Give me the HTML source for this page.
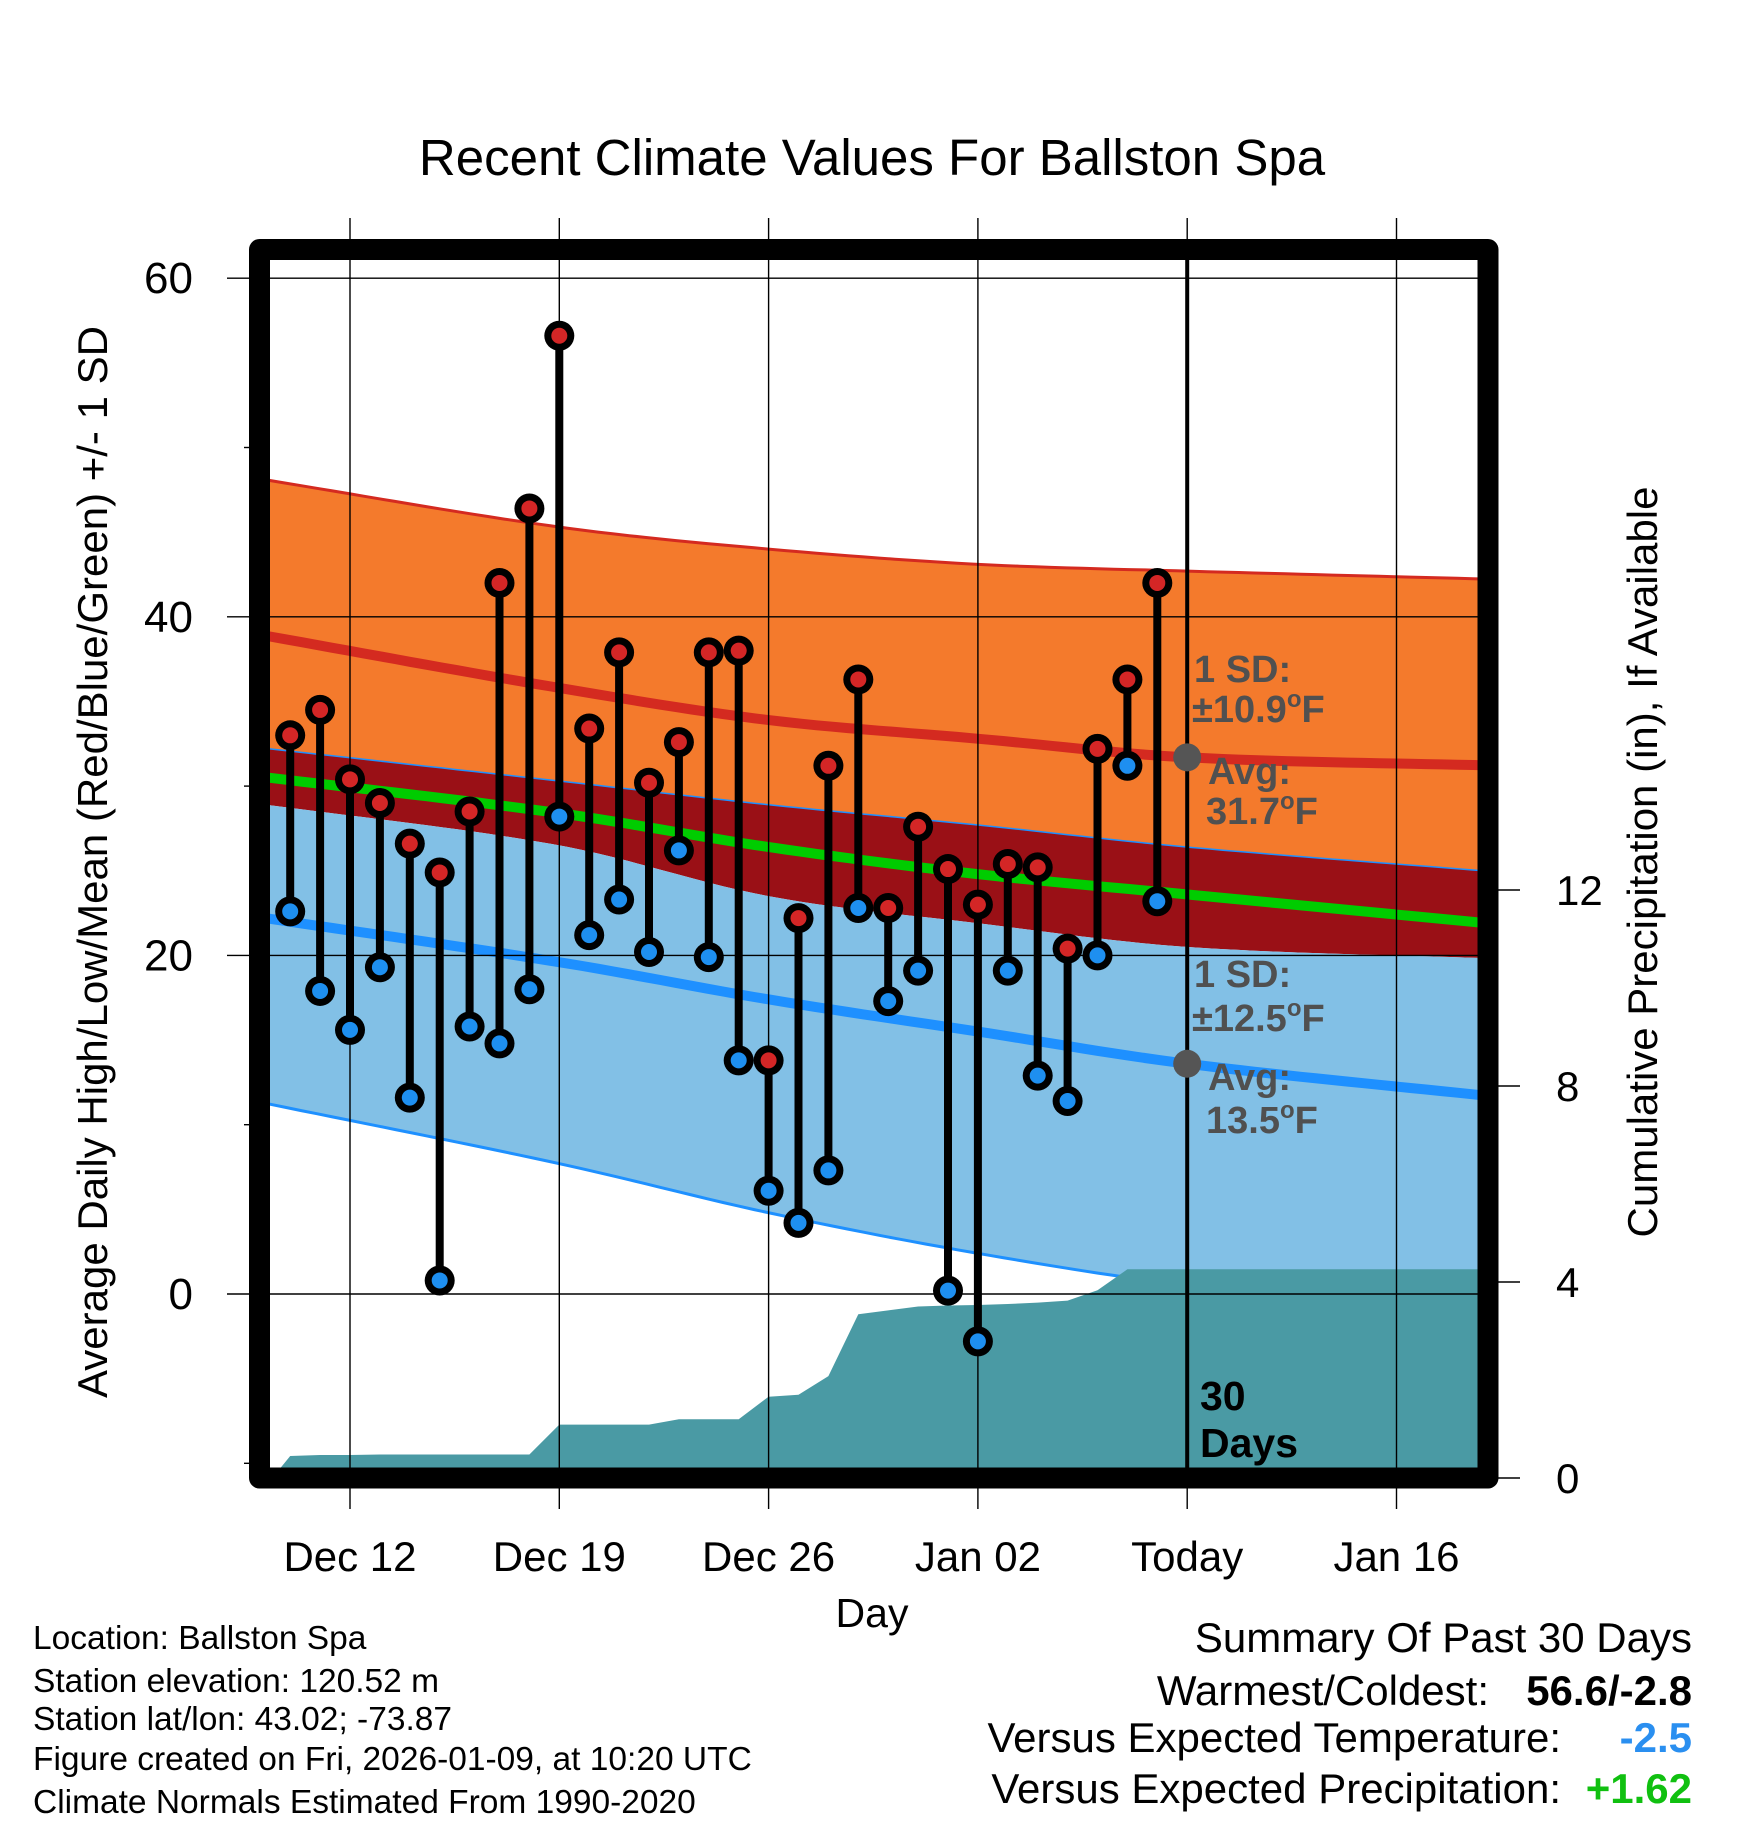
<!DOCTYPE html>
<html><head><meta charset="utf-8"><style>
html,body{margin:0;padding:0;background:#fff;}
svg{display:block;font-family:"Liberation Sans",Arial,sans-serif;}
</style></head><body>
<svg id="chart" width="1748" height="1828" viewBox="0 0 1748 1828" xmlns="http://www.w3.org/2000/svg">
<defs><clipPath id="plotclip"><rect x="259.5" y="249.5" width="1228.5" height="1228.5"/></clipPath></defs>
<g id="fills" clip-path="url(#plotclip)"></g>
<g id="grid"></g>
<g id="marks" clip-path="url(#plotclip)"></g>
<text x="872" y="175" font-size="51" text-anchor="middle">Recent Climate Values For Ballston Spa</text>
<text transform="translate(107,862) rotate(-90)" font-size="42" text-anchor="middle">Average Daily High/Low/Mean (Red/Blue/Green) +/- 1 SD</text>
<text transform="translate(1657,862) rotate(-90)" font-size="42" text-anchor="middle">Cumulative Precipitation (in), If Available</text>
<text x="872" y="1627" font-size="41" text-anchor="middle">Day</text>
<g font-size="33.5">
<text x="33" y="1649">Location: Ballston Spa</text>
<text x="33" y="1692">Station elevation: 120.52 m</text>
<text x="33" y="1730">Station lat/lon: 43.02; -73.87</text>
<text x="33" y="1770">Figure created on Fri, 2026-01-09, at 10:20 UTC</text>
<text x="33" y="1813">Climate Normals Estimated From 1990-2020</text>
</g>
<g font-size="42">
<text x="1692" y="1652" text-anchor="end">Summary Of Past 30 Days</text>
<text x="1489" y="1705" text-anchor="end">Warmest/Coldest:</text>
<text x="1692" y="1705" text-anchor="end" font-weight="bold">56.6/-2.8</text>
<text x="1561" y="1752" text-anchor="end">Versus Expected Temperature:</text>
<text x="1692" y="1752" text-anchor="end" font-weight="bold" fill="#2a8ff0">-2.5</text>
<text x="1561" y="1803" text-anchor="end">Versus Expected Precipitation:</text>
<text x="1692" y="1803" text-anchor="end" font-weight="bold" fill="#10c010">+1.62</text>
</g>
<g id="annot" font-size="38" font-weight="bold" fill="#505050">
<text x="1194" y="682">1 SD:</text>
<text x="1192" y="722">±10.9<tspan dy="-15" font-size="24">o</tspan><tspan dy="15">F</tspan></text>
<text x="1208" y="784">Avg:</text>
<text x="1206" y="824">31.7<tspan dy="-15" font-size="24">o</tspan><tspan dy="15">F</tspan></text>
<text x="1194" y="987">1 SD:</text>
<text x="1192" y="1031">±12.5<tspan dy="-15" font-size="24">o</tspan><tspan dy="15">F</tspan></text>
<text x="1208" y="1090">Avg:</text>
<text x="1206" y="1133">13.5<tspan dy="-15" font-size="24">o</tspan><tspan dy="15">F</tspan></text>
</g>
<g font-size="41" font-weight="bold" fill="#000">
<text x="1200" y="1410">30</text>
<text x="1200" y="1457">Days</text>
</g>
<rect x="259.5" y="249.5" width="1228.5" height="1228.5" fill="none" stroke="#000" stroke-width="21" stroke-linejoin="round"/>
</svg>
<script>
// day offsets relative to Dec 12
const obsDays = [-2,-1,0,1,2,3,4,5,6,7,8,9,10,11,12,13,14,15,16,17,18,19,20,21,22,23,24,25,26,27];
const highs = [33.0,34.5,30.4,29.0,26.6,24.9,28.5,42.0,46.4,56.6,33.4,37.9,30.2,32.6,37.9,38.0,13.8,22.2,31.2,36.3,22.8,27.6,25.1,23.0,25.4,25.2,20.4,32.2,36.3,42.0];
const lows = [22.6,17.9,15.6,19.3,11.6,0.8,15.8,14.8,18.0,28.2,21.2,23.3,20.2,26.2,19.9,13.8,6.1,4.2,7.3,22.8,17.3,19.1,0.2,-2.8,19.1,12.9,11.4,20.0,31.2,23.2];
const precip = [0.45,0.47,0.47,0.48,0.48,0.48,0.48,0.48,0.48,1.09,1.09,1.09,1.09,1.2,1.2,1.2,1.66,1.7,2.08,3.34,3.42,3.5,3.52,3.53,3.55,3.58,3.62,3.83,4.26,4.26];
const normDays = [-3.2,7,14,21,28,38.6];
const hiUpper = [48.2,45.3,44.0,43.1,42.7,42.2];
const hiMean = [39.0,35.8,33.9,32.8,31.7,31.2];
const bandTop = [32.3,30.3,28.9,27.7,26.4,24.9];
const meanLine = [30.6,28.4,26.4,24.8,23.6,21.8];
const bandBottom = [29.0,26.5,23.5,21.9,20.5,19.8];
const loMean = [22.3,19.6,17.4,15.5,13.6,11.6];
const loLower = [11.4,7.7,4.8,2.4,0.5,-1.5];
const xTickDays = [0,7,14,21,28,35];
const xTickLabels = ["Dec 12","Dec 19","Dec 26","Jan 02","Today","Jan 16"];
const yTicks = [60,40,20,0];
const yMinor = [50,30,10,-10];
const pTicks = [12,8,4,0];
const todayDay = 28;

const X = d => 350 + 29.9*d;
const Y = v => 1294 - 16.93*v;
const P = v => 1478 - 49*v;
const NS = "http://www.w3.org/2000/svg";
function mk(tag, parent, attrs){const e=document.createElementNS(NS,tag);for(const k in attrs)e.setAttribute(k,attrs[k]);parent.appendChild(e);return e;}
function slope(arr,j){const n=normDays.length-1;
 if(j===0)return (arr[1]-arr[0])/(normDays[1]-normDays[0]);
 if(j===n)return (arr[n]-arr[n-1])/(normDays[n]-normDays[n-1]);
 return (arr[j+1]-arr[j-1])/(normDays[j+1]-normDays[j-1]);}
function smooth(arr,d){
 let i=0;while(i<normDays.length-2&&d>normDays[i+1])i++;
 const x0=normDays[i],x1=normDays[i+1],h=x1-x0,t=(d-x0)/h;
 const h00=2*t*t*t-3*t*t+1,h10=t*t*t-2*t*t+t,h01=-2*t*t*t+3*t*t,h11=t*t*t-t*t;
 return h00*arr[i]+h10*h*slope(arr,i)+h01*arr[i+1]+h11*h*slope(arr,i+1);}
function sample(arr){const pts=[];const a=normDays[0],b=normDays[normDays.length-1];for(let k=0;k<=80;k++){const d=a+(b-a)*k/80;pts.push([X(d),Y(smooth(arr,d))]);}return pts;}
const ps = p => p.map(q=>q[0].toFixed(1)+","+q[1].toFixed(1)).join(" ");
const fills=document.getElementById("fills");
function band(top,bot,fill,name){const a=sample(top),b=sample(bot).reverse();const e=mk("polygon",fills,{points:ps(a.concat(b)),fill:fill});

}
function line(arr,color,w,name){const e=mk("polyline",fills,{points:ps(sample(arr)),fill:"none",stroke:color,"stroke-width":w});

}

band(hiUpper,bandTop,"#f47a2c","high-sd-band");
band(bandTop,bandBottom,"#9a1016","mean-band");
band(bandBottom,loLower,"#82c0e6","low-sd-band");
line(hiUpper,"#d42a20",3,"high-upper-line");
line(bandTop,"#1e90ff",1.5,"band-top-line");
line(hiMean,"#d42a20",10,"high-mean-line");
line(meanLine,"#00cc00",10,"mean-line");
line(loMean,"#1e90ff",10,"low-mean-line");
line(loLower,"#1e90ff",3,"low-lower-line");

(function(){const pts=[[X(-2.6),P(0)]];obsDays.forEach((d,i)=>pts.push([X(d),P(precip[i])]));
pts.push([X(40),P(precip[precip.length-1])]);pts.push([X(40),P(-0.5)]);pts.push([X(-3.5),P(-0.5)]);pts.push([X(-3.5),P(0)]);
const e=mk("polygon",fills,{points:ps(pts),fill:"#4a9aa4"});

})();

const grid=document.getElementById("grid");
xTickDays.forEach((d,i)=>{const e=mk("line",grid,{x1:X(d),x2:X(d),y1:218,y2:1509,stroke:"#000","stroke-width":1.4});


const t=mk("text",grid,{x:X(d),y:1571,"font-size":42,"text-anchor":"middle"});t.textContent=xTickLabels[i];

});
yTicks.forEach(v=>{const e=mk("line",grid,{x1:227,x2:1488,y1:Y(v),y2:Y(v),stroke:"#000","stroke-width":1.4});


const t=mk("text",grid,{x:193,y:Y(v)+15,"font-size":44,"text-anchor":"end"});t.textContent=v;

});
yMinor.forEach(v=>{const e=mk("line",grid,{x1:244,x2:260,y1:Y(v),y2:Y(v),stroke:"#000","stroke-width":1.4});

});
pTicks.forEach(v=>{const e=mk("line",grid,{x1:1488,x2:1520,y1:P(v),y2:P(v),stroke:"#000","stroke-width":1.4});


const t=mk("text",grid,{x:1556,y:P(v)+15,"font-size":42});t.textContent=v;

});

const marks=document.getElementById("marks");
const tl=mk("line",marks,{x1:X(todayDay),x2:X(todayDay),y1:250,y2:1478,stroke:"#000","stroke-width":4});


obsDays.forEach((d,i)=>{const x=X(d);
 const s=mk("line",marks,{x1:x,x2:x,y1:Y(highs[i]),y2:Y(lows[i]),stroke:"#000","stroke-width":8});
 
 
 [[highs[i],"#d42626","high-point"],[lows[i],"#1e8ff0","low-point"]].forEach(([v,c,n])=>{
  const o=mk("circle",marks,{cx:x,cy:Y(v),r:15,fill:"#000"});
  
  
  const ci=mk("circle",marks,{cx:x,cy:Y(v),r:8,fill:c});
  
  });});
[[smooth(hiMean,todayDay),"today-high-avg-dot"],[smooth(loMean,todayDay),"today-low-avg-dot"]].forEach(([v,n])=>{
 const c=mk("circle",marks,{cx:X(todayDay),cy:Y(v),r:14,fill:"#555"});
 
 });
</script>
</body></html>
